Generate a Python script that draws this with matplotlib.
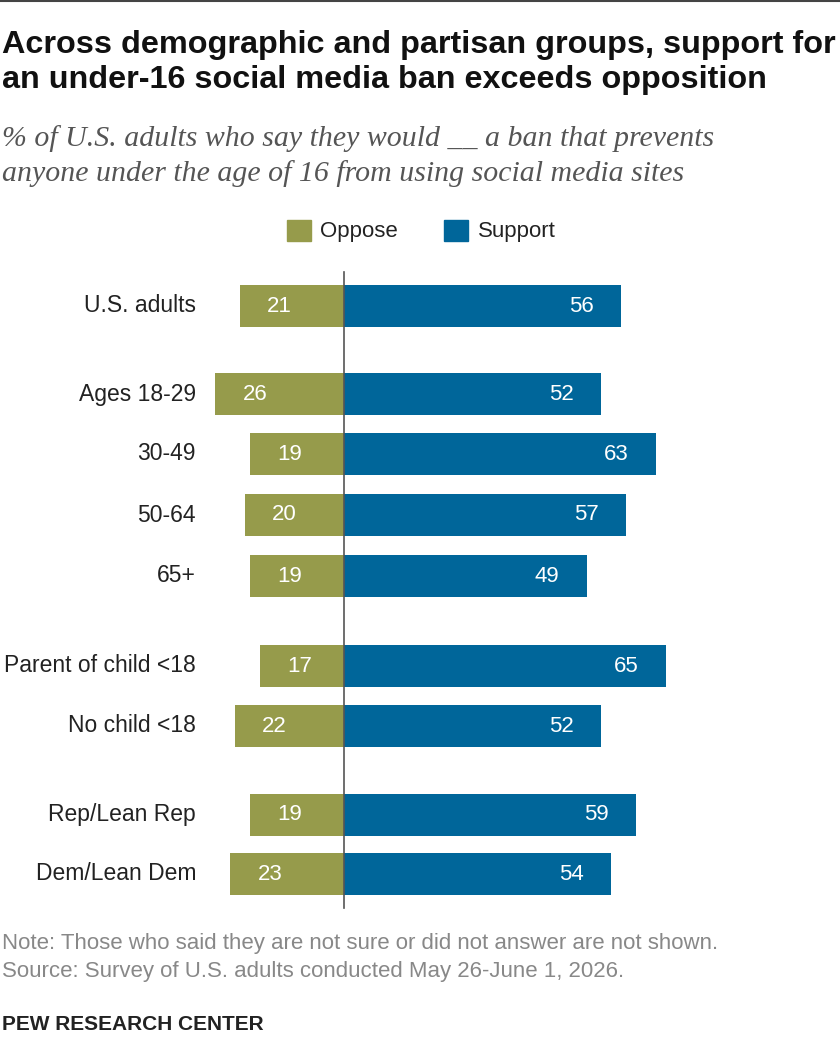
import matplotlib.pyplot as plt

categories = ["U.S. adults", "Ages 18-29", "30-49", "50-64", "65+",
              "Parent of child <18", "No child <18", "Rep/Lean Rep", "Dem/Lean Dem"]
oppose = [21, 26, 19, 20, 19, 17, 22, 19, 23]
support = [56, 52, 63, 57, 49, 65, 52, 59, 54]
row_y = [306, 394, 454, 515, 576, 666, 726, 815, 874]  # layout positions (px)

OPP_C = "#969B4B"
SUP_C = "#00669A"
PX = 4.95  # pixels per percentage point
CX = 344

plt.rcParams["font.family"] = ["Liberation Sans", "DejaVu Sans"]
fig = plt.figure(figsize=(8.4, 10.56), dpi=100)
ax = fig.add_axes([0, 0, 1, 1])
ax.set_xlim(-CX / PX, (840 - CX) / PX)
ax.set_ylim(1056, 0)
ax.axis("off")

ax.barh(row_y, [-v for v in oppose], height=42, color=OPP_C)
ax.barh(row_y, support, height=42, color=SUP_C)
ax.plot([0, 0], [272, 908], color="#555555", lw=1.2)

for y, cat, o, s in zip(row_y, categories, oppose, support):
    ax.text(-(CX - 196) / PX, y, cat, ha="right", va="center", fontsize=16.5, color="#222222")
    ax.text(-o + 8, y, str(o), ha="center", va="center", fontsize=16, color="white")
    ax.text(s - 8, y, str(s), ha="center", va="center", fontsize=16, color="white")

# legend
ax.add_patch(plt.Rectangle(((287 - CX) / PX, 220), 24 / PX, 21, color=OPP_C))
ax.text((320 - CX) / PX, 231, "Oppose", va="center", fontsize=16, color="#222222")
ax.add_patch(plt.Rectangle(((444 - CX) / PX, 220), 24 / PX, 21, color=SUP_C))
ax.text((478 - CX) / PX, 231, "Support", va="center", fontsize=16, color="#222222")

fig.add_artist(plt.Line2D([0, 1], [1 - 1 / 1056, 1 - 1 / 1056], color="#444444", lw=1.5))
fig.text(2 / 840, 1 - 45 / 1056, "Across demographic and partisan groups, support for",
         fontsize=23.3, fontweight="bold", va="center", color="#111111")
fig.text(2 / 840, 1 - 80 / 1056, "an under-16 social media ban exceeds opposition",
         fontsize=23.3, fontweight="bold", va="center", color="#111111")
fig.text(2 / 840, 1 - 139 / 1056, "% of U.S. adults who say they would __ a ban that prevents",
         fontsize=21.5, style="italic", family="Liberation Serif", va="center", color="#555555")
fig.text(2 / 840, 1 - 174 / 1056, "anyone under the age of 16 from using social media sites",
         fontsize=21.5, style="italic", family="Liberation Serif", va="center", color="#555555")
fig.text(2 / 840, 1 - 943 / 1056,
         "Note: Those who said they are not sure or did not answer are not shown.",
         fontsize=16, va="center", color="#888888")
fig.text(2 / 840, 1 - 972 / 1056, "Source: Survey of U.S. adults conducted May 26-June 1, 2026.",
         fontsize=16, va="center", color="#888888")
fig.text(2 / 840, 1 - 1024 / 1056, "PEW RESEARCH CENTER",
         fontsize=15, fontweight="bold", va="center", color="#222222")

fig.savefig("out.png", dpi=100)
